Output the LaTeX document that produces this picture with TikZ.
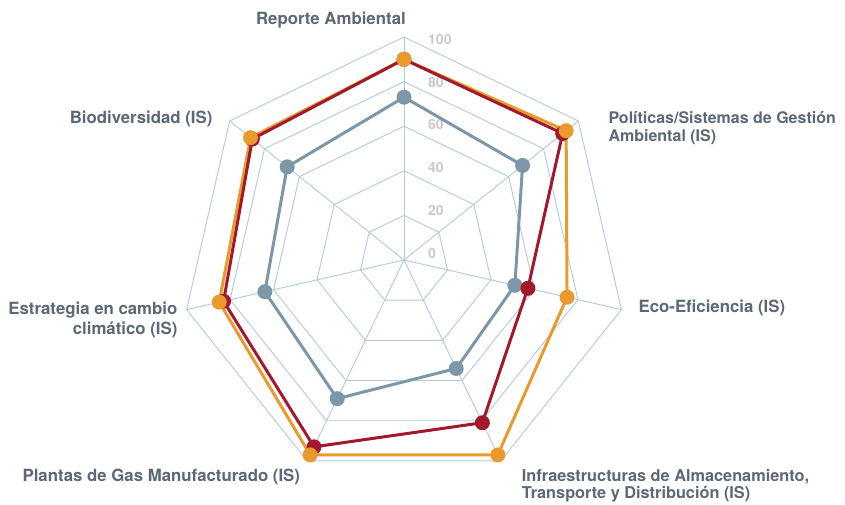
\documentclass[tikz,border=0pt]{standalone}
\usepackage{fontspec}
\setmainfont{TeX Gyre Heros}
\usepackage{xcolor}
\usetikzlibrary{positioning}

\definecolor{gridblue}{HTML}{B4C9D8}
\definecolor{labelgray}{HTML}{5C6873}
\definecolor{tickgray}{HTML}{C8C8C8}
\definecolor{seriesgray}{HTML}{7D97A9}
\definecolor{seriesred}{HTML}{A2192C}
\definecolor{seriesorange}{HTML}{E99A2C}

\tikzset{
  gridline/.style={draw=gridblue, line width=0.9pt},
  lbl/.style={text=labelgray, inner sep=0pt, font=\bfseries\fontsize{16.8}{20}\selectfont},
  ticklbl/.style={text=tickgray, inner sep=0pt, anchor=west, font=\bfseries\fontsize{14}{14}\selectfont},
  series/.style={line width=3pt, line join=round},
  ptdot/.style={circle, fill=#1, inner sep=0pt, minimum size=15pt},
}

\begin{document}
\begin{tikzpicture}[x=1pt, y=1pt]
\useasboundingbox (-404,-244) rectangle (441,260);

% axes
\coordinate (ctr) at (0,0);
\foreach \i in {1,...,7}
  \coordinate (v\i) at ({90-(\i-1)*360/7}:223);
\foreach \r in {20,40,...,100}
  \draw[gridline] (90:2.23*\r) \foreach \i in {1,...,6}{ -- ({90-\i*360/7}:2.23*\r)} -- cycle;
\foreach \i in {1,...,7}
  \draw[gridline] (ctr) -- (v\i);

% scale
\foreach \v [count=\k from 0] in {0,20,...,100}
  \node[ticklbl] (t\v) at (24,{7+\k*42.7}) {\v};

% data
\foreach \val [count=\i] in {73,68,51,54,69,64,67}
  \coordinate (g\i) at ({90-(\i-1)*360/7}:2.23*\val);
\foreach \val [count=\i] in {90,91,57,81,93,83,87}
  \coordinate (r\i) at ({90-(\i-1)*360/7}:2.23*\val);
\foreach \val [count=\i] in {90,93,75,97,97,85,88}
  \coordinate (o\i) at ({90-(\i-1)*360/7}:2.23*\val);

\draw[series, draw=seriesgray] (g1) -- (g2) -- (g3) -- (g4) -- (g5) -- (g6) -- (g7) -- cycle;
\foreach \i in {1,...,7}
  \node[ptdot=seriesgray] (gd\i) at (g\i) {};
\draw[series, draw=seriesorange] (o1) -- (o2) -- (o3) -- (o4) -- (o5) -- (o6) -- (o7) -- cycle;
\draw[series, draw=seriesred] (r1) -- (r2) -- (r3) -- (r4) -- (r5) -- (r6) -- (r7) -- cycle;
\foreach \i in {1,...,7}
  \node[ptdot=seriesred] (rd\i) at (r\i) {};
\foreach \i in {1,...,7}
  \node[ptdot=seriesorange] (od\i) at (o\i) {};

% labels
\node[lbl, above left=9pt and -2pt of v1] (lReporte) {Reporte Ambiental};
\node[lbl, align=left, font=\bfseries\fontsize{16}{18}\selectfont, right=30pt of v2, yshift=-7pt] (lPoliticas) {Políticas/Sistemas de Gestión\\Ambiental (IS)};
\node[lbl, right=17pt of v3, yshift=2pt] (lEco) {Eco-Eficiencia (IS)};
\node[lbl, align=left, font=\bfseries\fontsize{16.3}{16.8}\selectfont, below right=8pt and 21pt of v4] (lInfra) {Infraestructuras de Almacenamiento,\\Transporte y Distribución (IS)};
\node[lbl, below left=7.5pt and 7pt of v5] (lPlantas) {Plantas de Gas Manufacturado (IS)};
\node[lbl, align=right, left=9pt of v6, yshift=-10pt] (lEstrategia) {Estrategia en cambio\\climático (IS)};
\node[lbl, left=17pt of v7, yshift=2pt] (lBio) {Biodiversidad (IS)};
\end{tikzpicture}
\end{document}
